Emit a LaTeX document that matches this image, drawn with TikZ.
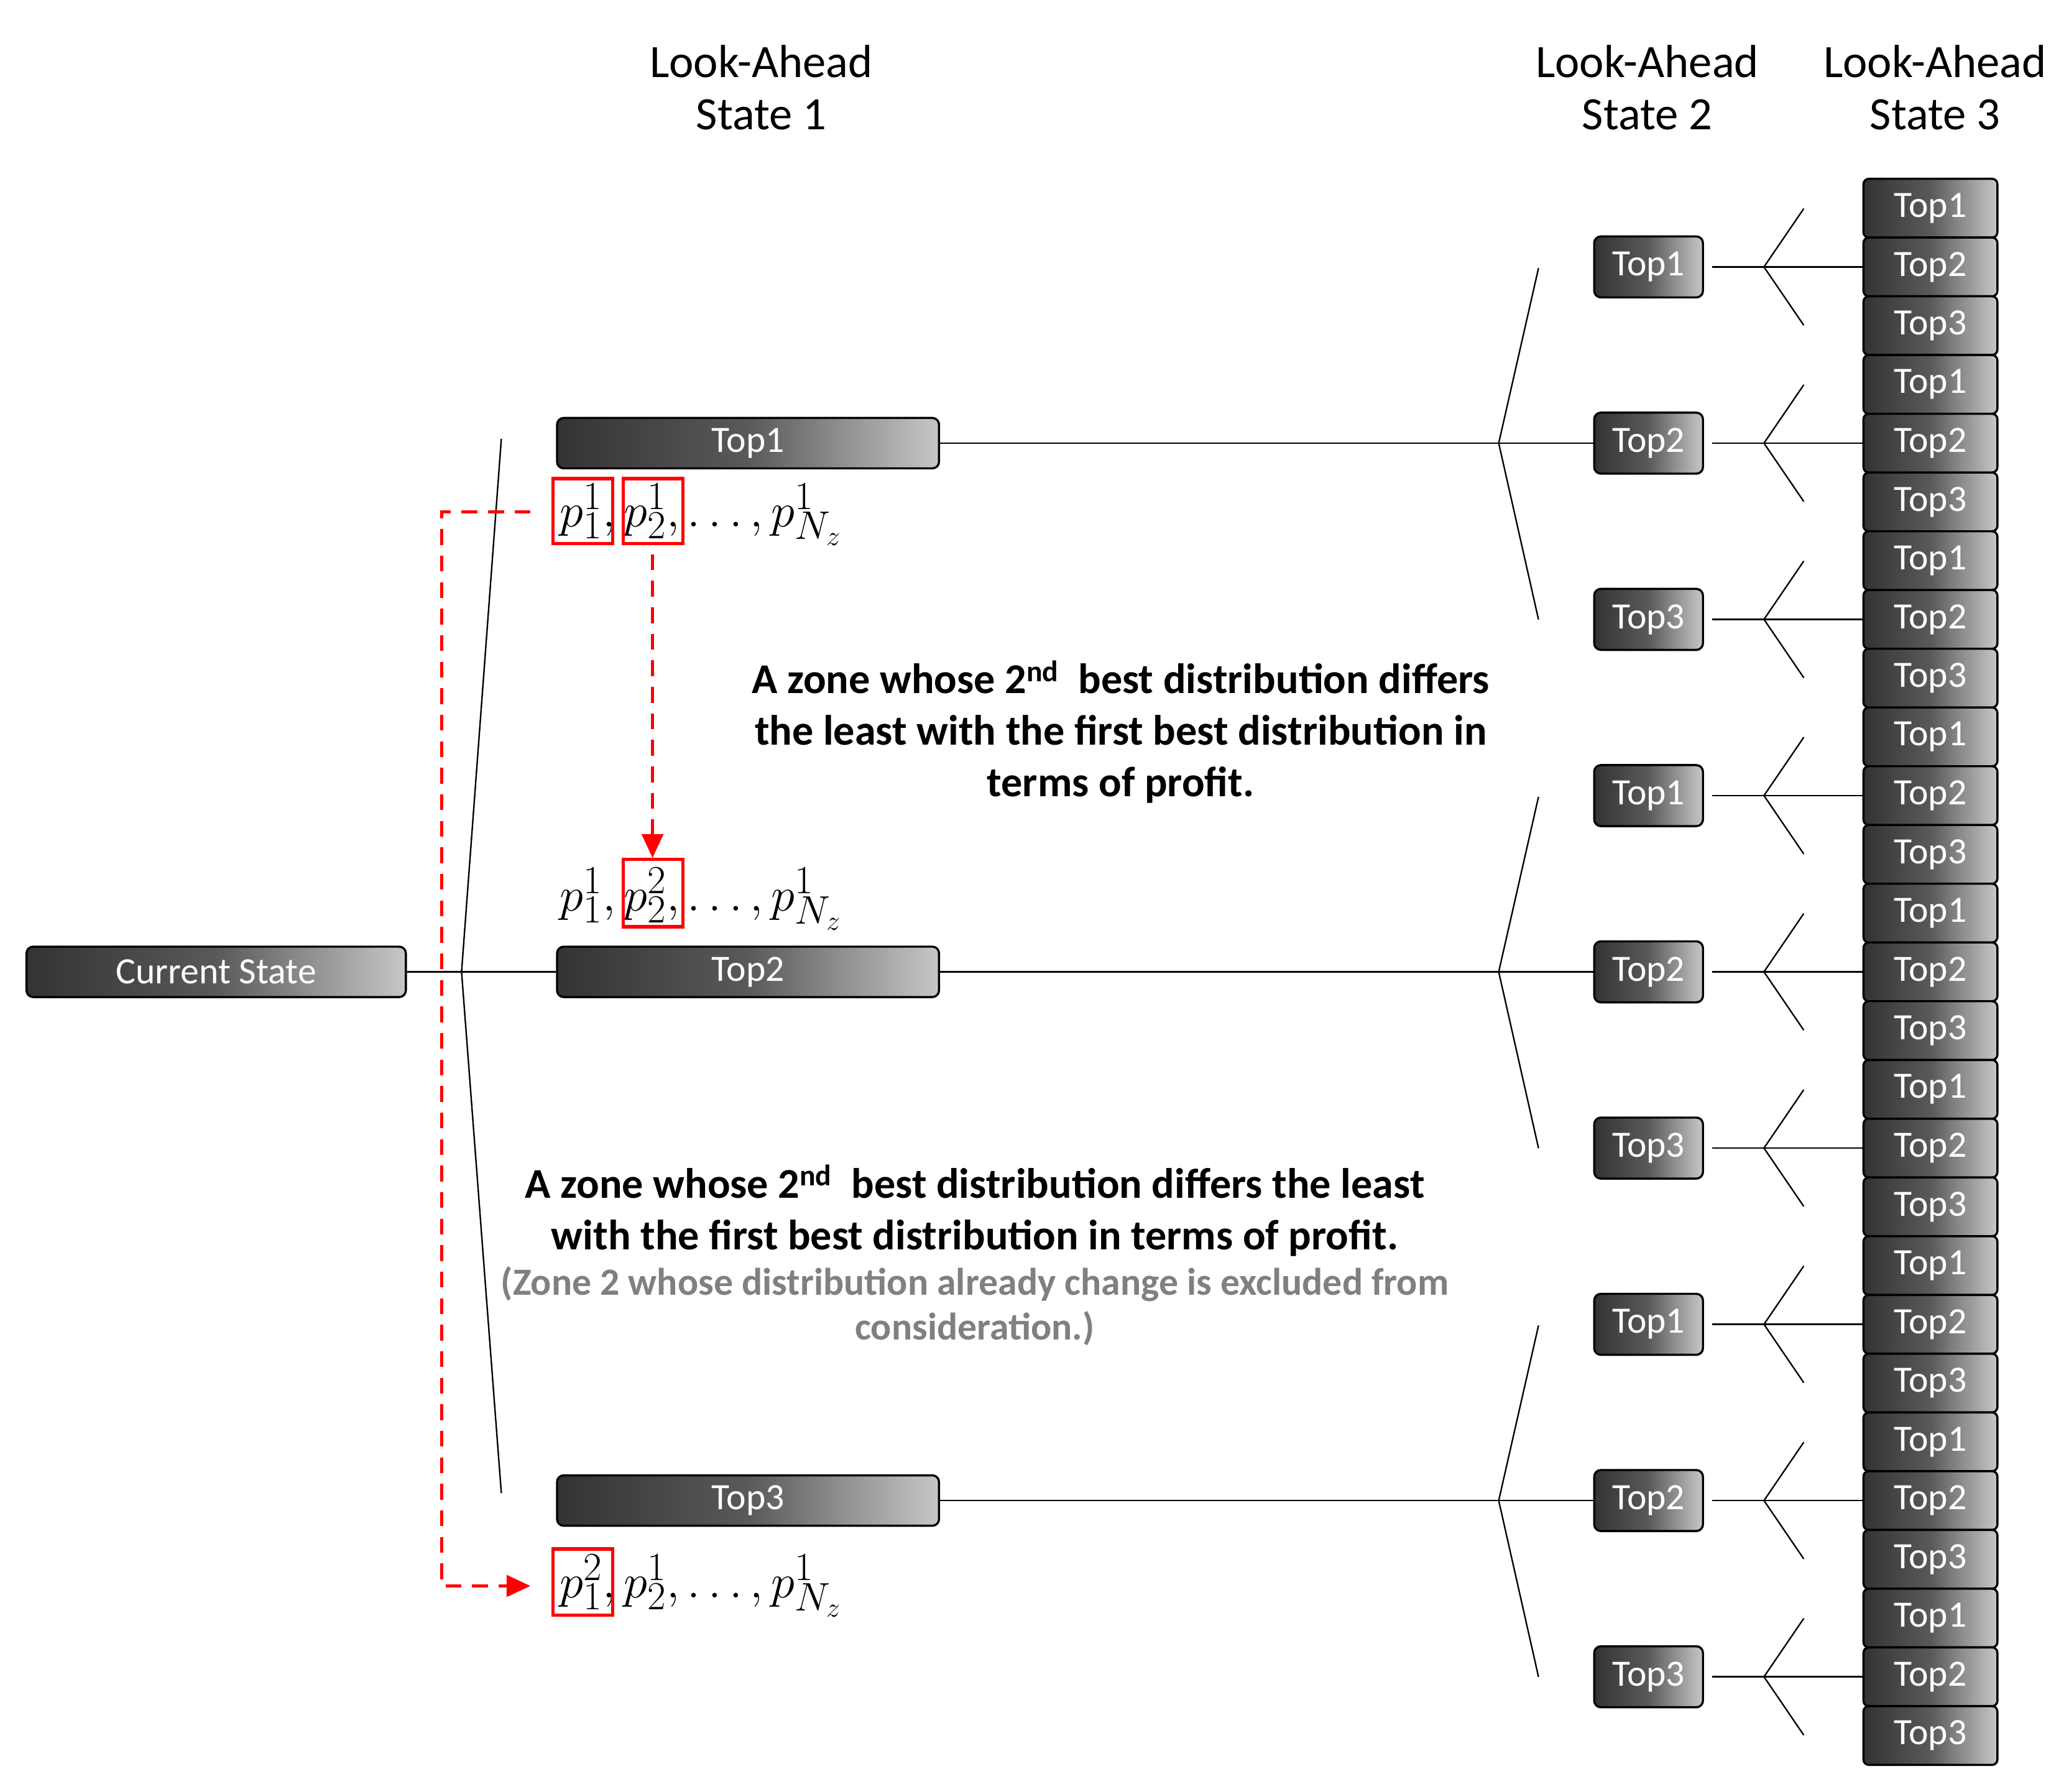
\documentclass[tikz,border=0pt]{standalone}
\usepackage{fontspec}
\setmainfont{Carlito}
\usetikzlibrary{arrows.meta,calc}
\begin{document}
\begin{tikzpicture}[x=1pt,y=-1pt,
  gbox/.style={draw=black,line width=1.6pt,rounded corners=5pt,left color=black!80,right color=black!22,middle color=black!65,text=white,font=\fontsize{28}{28}\selectfont,inner sep=0pt},
  big/.style={gbox,minimum width=288,minimum height=38},
  mid/.style={gbox,minimum width=82,minimum height=46},
  sm/.style={gbox,minimum width=101,minimum height=44.3,rounded corners=4pt},
  ln/.style={line width=1.1pt},
  red/.style={draw=red,line width=2.6pt},
  rd/.style={red,dash pattern=on 12pt off 8pt},
  title/.style={font=\fontsize{35}{39}\selectfont,align=center},
  note/.style={font=\bfseries\fontsize{32}{39}\selectfont,align=center},
  mth/.style={font=\fontsize{30}{30}\selectfont,inner sep=0pt,anchor=west,scale=1.45}]
\useasboundingbox (0,0) rectangle (1560,1351);
\node[title] (t1) at (574,66) {Look-Ahead\\State 1};
\node[title] (t2) at (1242,66) {Look-Ahead\\State 2};
\node[title] (t3) at (1459,66) {Look-Ahead\\State 3};
\def\pitch{44.3}
\foreach \i in {0,...,26}{
  \pgfmathtruncatemacro{\lab}{mod(\i,3)+1}
  \node[sm] (c\i) at (1455.5,{157+\pitch*\i}) {Top\lab};
}
\foreach \g/\name in {0/Top1,1/Top2,2/Top3}{
  \pgfmathsetmacro{\yc}{157+\pitch*(9*\g+4)}
  \node[big] (L\g) at (564,\yc) {\name};
  \coordinate (F\g) at (1130,\yc);
  \draw[ln] (L\g.east) -- (F\g);
  \foreach \h/\nm in {0/Top1,1/Top2,2/Top3}{
    \pgfmathsetmacro{\yy}{157+\pitch*(9*\g+3*\h+1)}
    \pgfmathtruncatemacro{\k}{9*\g+3*\h+1}
    \node[mid] (M\g\h) at (1243,\yy) {\nm};
    \coordinate (G\g\h) at (1330,\yy);
    \draw[ln] ($(M\g\h.east)+(6,0)$) -- (G\g\h) -- (c\k.west);
    \draw[ln] ($(G\g\h)+(30,-44)$) -- (G\g\h) -- ($(G\g\h)+(30,44)$);
  }
  \draw[ln] (F\g) -- (M\g1.west);
  \draw[ln] ($(F\g)+(30,-132)$) -- (F\g) -- ($(F\g)+(30,133)$);
}
\node[big,minimum width=286] (cs) at (163,{157+\pitch*13}) {Current State};
\coordinate (F) at (348,{157+\pitch*13});
\draw[ln] (cs.east) -- (L1.west);
\draw[ln] (378,331) -- (F) -- (378,1126);
\node[mth] (fa) at (422,388) {$p_1^1,p_2^1,\ldots,p_{N_z}^1$};
\node[mth] (fb) at (422,678) {$p_1^1,p_2^2,\ldots,p_{N_z}^1$};
\node[mth] (fc) at (422,1196) {$p_1^2,p_2^1,\ldots,p_{N_z}^1$};
\draw[red] (417,361) rectangle (462,410);
\draw[red] (470,361) rectangle (515,410);
\draw[red] (470,648) rectangle (515,699);
\draw[red] (417,1168) rectangle (462,1218);
\coordinate (a1) at (400,386);
\coordinate (a2) at (333,386);
\coordinate (a3) at (333,1196);
\coordinate (a4) at (400,1196);
\draw[rd,-{Triangle[length=18pt,width=16pt]}] (a1) -- (a2) -- (a3) -- (a4);
\coordinate (b1) at (492,418);
\coordinate (b2) at (492,647);
\draw[rd,-{Triangle[length=18pt,width=16pt]}] (b1) -- (b2);
\node[note] (n1) at (845,552) {A zone whose 2\textsuperscript{nd}\ \ best distribution differs\\the least with the first best distribution in\\terms of profit.};
\node[note] (n2) at (735,913) {A zone whose 2\textsuperscript{nd}\ \ best distribution differs the least\\with the first best distribution in terms of profit.};
\node[note,text=black!50,font=\bfseries\fontsize{29}{34}\selectfont] (n3) at (735,985) {(Zone 2 whose distribution already change is excluded from\\consideration.)};
\end{tikzpicture}
\end{document}
